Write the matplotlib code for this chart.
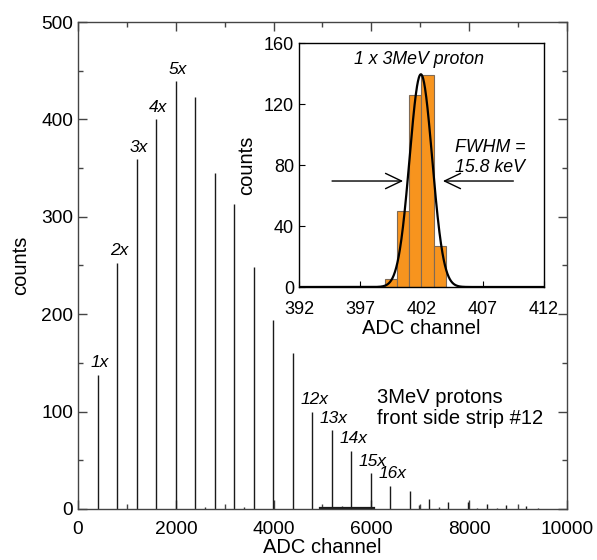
import matplotlib
matplotlib.use("Agg")
import matplotlib.pyplot as plt
import numpy as np
from matplotlib.ticker import MultipleLocator

plt.rcParams['font.family'] = ['Liberation Sans', 'DejaVu Sans']

# ---- main spectrum data ----
peak_channels = [402, 800, 1200, 1600, 1998, 2398, 2796, 3196, 3596, 3994, 4394,
                 4794, 5190, 5588, 5986, 6384, 6780, 7176, 7572, 7968, 8364, 8760, 9156]
peak_counts = [138, 253, 359, 400, 439, 423, 345, 313, 248, 194, 160,
               100, 81, 60, 37, 24, 18, 10, 7.5, 7.5, 5, 4, 3]
peak_labels = ['1x', '2x', '3x', '4x', '5x', '', '', '', '', '', '',
               '12x', '13x', '14x', '15x', '16x', '', '', '', '', '', '', '']

minor_channels = [2600, 3400, 5400, 6980, 7380, 8160, 8560, 9400]
minor_counts = [2, 2, 3, 4, 2, 1.5, 1.5, 1.5]

bg_channels = [4950, 6050]
bg_counts = [1.5, 1.5]

# ---- inset data ----
bin_left = [399, 400, 401, 402, 403]
bin_counts = [5, 50, 126, 139, 27]
fit_mu, fit_sigma, fit_amp = 401.95, 0.92, 139.5

fig = plt.figure(figsize=(5.97, 5.60), dpi=100)
ax = fig.add_axes([0.1307, 0.0911, 0.8190, 0.8696])

ax.vlines(peak_channels, 0, peak_counts, color='#1a1a1a', lw=1.0)
ax.vlines(minor_channels, 0, minor_counts, color='#333333', lw=1.0)
ax.plot(bg_channels, bg_counts, color='#1a1a1a', lw=1.6)

for xc, yc, lab in zip(peak_channels, peak_counts, peak_labels):
    if lab:
        ax.annotate(lab, (xc, yc), xytext=(1.5, 3), textcoords='offset points',
                    ha='center', va='bottom', fontsize=12.5, style='italic')

ax.set_xlim(0, 10000)
ax.set_ylim(0, 500)
ax.xaxis.set_major_locator(MultipleLocator(2000))
ax.xaxis.set_minor_locator(MultipleLocator(1000))
ax.yaxis.set_major_locator(MultipleLocator(100))
ax.yaxis.set_minor_locator(MultipleLocator(50))
ax.tick_params(which='both', direction='in', top=True, right=True, labelsize=13.8,
               color='#444444')
ax.tick_params(which='major', length=6.5, width=1.0)
ax.tick_params(which='minor', length=3.5, width=1.0)
ax.tick_params(axis='x', which='major', pad=9)
for s in ax.spines.values():
    s.set_color('#444444')
    s.set_linewidth(1.0)
ax.set_xlabel('ADC channel', fontsize=14.5, labelpad=0)
ax.set_ylabel('counts', fontsize=14.5, labelpad=8)

ax.text(0.611, 0.207, '3MeV protons\nfront side strip #12', transform=ax.transAxes,
        fontsize=14.5, ha='left', va='center', linespacing=1.1)

# ---- inset ----
ins = fig.add_axes([0.5008, 0.4875, 0.4104, 0.4357])
ins.set_facecolor('white')
ins.bar(bin_left, bin_counts, width=1.0, align='edge', color='#F7941E',
        edgecolor='#7f6a55', linewidth=0.8, zorder=2)
xs = np.linspace(392, 412, 800)
ins.plot(xs, fit_amp * np.exp(-0.5 * ((xs - fit_mu) / fit_sigma) ** 2),
         color='black', lw=1.6, zorder=3)
ins.set_xlim(392, 412)
ins.set_ylim(0, 160)
ins.set_xticks([392, 397, 402, 407, 412])
ins.set_yticks([0, 40, 80, 120, 160])
ins.tick_params(direction='in', length=4, labelsize=13)
ins.tick_params(axis='x', pad=10)
ins.set_xlabel('ADC channel', fontsize=14.5, labelpad=1)
ins.set_ylabel('counts', fontsize=14.5, labelpad=5.5)
for s in ins.spines.values():
    s.set_linewidth(1.0)

ins.text(401.8, 149, '1 x 3MeV proton', ha='center', va='center', fontsize=12.8,
         style='italic')
ins.text(407.6, 85, 'FWHM =\n15.8 keV', ha='center', va='center', fontsize=12.8,
         style='italic', linespacing=1.2)
arrow_kw = dict(arrowstyle='->,head_length=1.15,head_width=0.55', color='black', lw=1.0,
                shrinkA=0, shrinkB=0)
ins.annotate('', xy=(400.5, 69.5), xytext=(394.7, 69.5), arrowprops=arrow_kw)
ins.annotate('', xy=(403.75, 69.5), xytext=(409.5, 69.5), arrowprops=arrow_kw)

fig.savefig('out.png', dpi=100)
